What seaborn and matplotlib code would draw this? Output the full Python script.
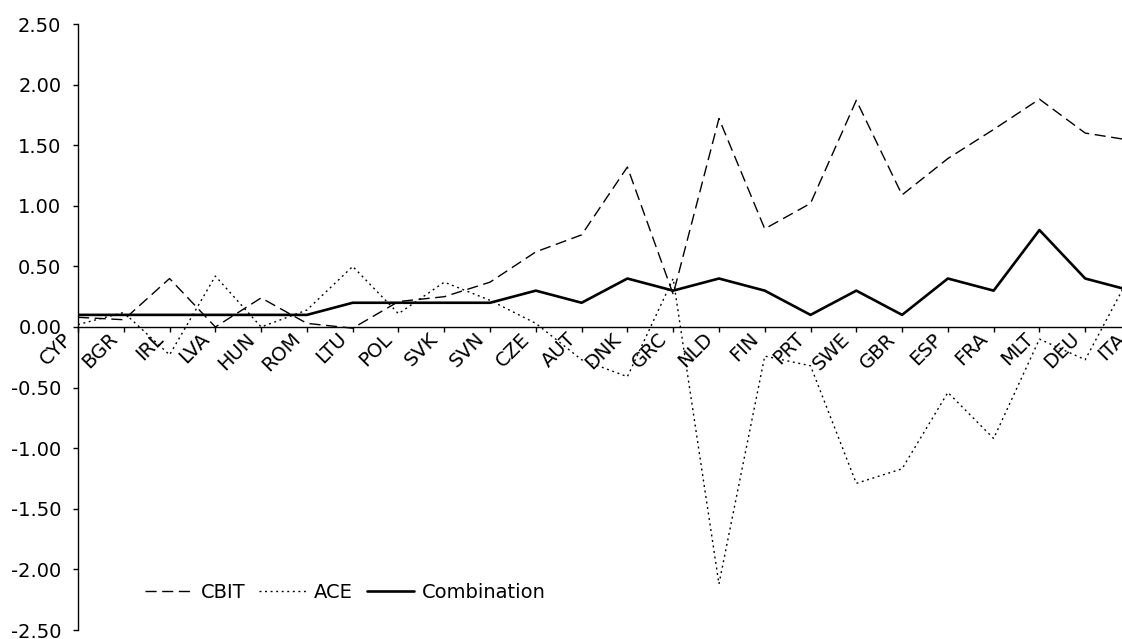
import numpy as np
import pandas as pd
import matplotlib
matplotlib.use("Agg")
import matplotlib.pyplot as plt
from matplotlib.transforms import ScaledTranslation
from matplotlib.ticker import FormatStrFormatter, FixedLocator
import seaborn as sns

countries = ["CYP", "BGR", "IRL", "LVA", "HUN", "ROM", "LTU", "POL", "SVK", "SVN",
             "CZE", "AUT", "DNK", "GRC", "NLD", "FIN", "PRT", "SWE", "GBR", "ESP",
             "FRA", "MLT", "DEU", "ITA"]
cbit = [0.08, 0.06, 0.40, 0.00, 0.24, 0.03, -0.01, 0.21, 0.25, 0.37,
        0.62, 0.76, 1.32, 0.27, 1.72, 0.81, 1.02, 1.87, 1.09, 1.39,
        1.63, 1.88, 1.60, 1.54]
ace = [0.02, 0.12, -0.23, 0.42, 0.00, 0.14, 0.50, 0.11, 0.37, 0.22,
       0.03, -0.27, -0.41, 0.40, -2.12, -0.24, -0.32, -1.29, -1.17, -0.54,
       -0.92, -0.10, -0.27, 0.44]
combination = [0.1, 0.1, 0.1, 0.1, 0.1, 0.1, 0.2, 0.2, 0.2, 0.2,
               0.3, 0.2, 0.4, 0.3, 0.4, 0.3, 0.1, 0.3, 0.1, 0.4,
               0.3, 0.8, 0.4, 0.3]
y_ticks = [-2.5, -2.0, -1.5, -1.0, -0.5, 0.0, 0.5, 1.0, 1.5, 2.0, 2.5]

sns.set_style("white")
plt.rcParams["font.family"] = ["DejaVu Sans"]
plt.rcParams["axes.unicode_minus"] = False
for k in ["text.color", "xtick.color", "ytick.color", "axes.labelcolor", "axes.edgecolor"]:
    plt.rcParams[k] = "black"
FS = 14

W, H = 1122, 639
fig = plt.figure(figsize=(W / 100, H / 100), dpi=100)
x0, x23 = 78, 1131
ytop, ybot = 24, 630
ax = fig.add_axes([x0 / W, 1 - ybot / H, (x23 - x0) / W, (ybot - ytop) / H])

pos = np.arange(len(countries))
df = pd.DataFrame({"pos": pos, "CBIT": cbit, "ACE": ace, "Combination": combination})

sns.lineplot(data=df, x="pos", y="CBIT", ax=ax, color="black", lw=1.0,
             linestyle=(0, (8, 4)), label="CBIT", sort=False)
sns.lineplot(data=df, x="pos", y="ACE", ax=ax, color="black", lw=1.0,
             linestyle=(0, (1.4, 2.6)), label="ACE", sort=False)
sns.lineplot(data=df, x="pos", y="Combination", ax=ax, color="black", lw=1.9,
             linestyle="-", label="Combination", sort=False)

ax.set_xlim(0, len(countries) - 1)
ax.set_ylim(-2.5, 2.5)
ax.set_xlabel("")
ax.set_ylabel("")

for s in ["top", "right"]:
    ax.spines[s].set_visible(False)
ax.spines["bottom"].set_position(("data", 0))
for s in ["left", "bottom"]:
    ax.spines[s].set_color("black")
    ax.spines[s].set_linewidth(1.0)

ax.yaxis.set_major_locator(FixedLocator(y_ticks))
ax.yaxis.set_major_formatter(FormatStrFormatter("%.2f"))
ax.set_xticks(pos)
ax.set_xticklabels(countries)
ax.tick_params(axis="y", direction="out", length=3.6, width=1.0, color="black",
               labelcolor="black", pad=8.4, labelsize=FS, left=True)
ax.tick_params(axis="x", direction="out", length=3.6, width=1.0, color="black",
               labelcolor="black", pad=0, labelsize=FS, bottom=True)

leg = ax.legend(loc="center left", bbox_to_anchor=(145 / W, 1 - 592 / H),
                bbox_transform=fig.transFigure, ncol=3, frameon=False,
                fontsize=FS, handlelength=2.45, handletextpad=0.4,
                columnspacing=0.7, borderpad=0.0, borderaxespad=0.0)
for t in leg.get_texts():
    t.set_color("black")

off = ScaledTranslation(-9 / 100, -4 / 100, fig.dpi_scale_trans)
for lab in ax.get_xticklabels():
    lab.set_rotation(45)
    lab.set_ha("right")
    lab.set_va("center")
    lab.set_rotation_mode("anchor")
    lab.set_transform(lab.get_transform() + off)

fig.savefig("out.png", dpi=100)
